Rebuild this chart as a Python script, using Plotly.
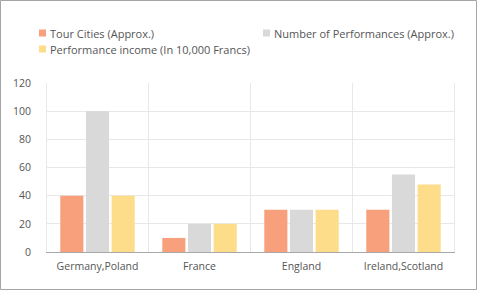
import plotly.graph_objects as go

categories = ["Germany,Poland", "France", "England", "Ireland,Scotland"]
tour_cities = [40, 10, 30, 30]
performances = [100, 20, 30, 55]
income = [40, 20, 30, 48]
series_names = ["Tour Cities (Approx.)", "Number of Performances (Approx.)", "Performance income (In 10,000 Francs)"]
colors = ["#F8A07B", "#D9D9D9", "#FDDC8A"]
y_ticks = [0, 20, 40, 60, 80, 100, 120]

W, H = 477, 290
L, R, T, B = 46, 22, 83, 38
pw, ph = W - L - R, H - T - B

def px_x(x):
    return (x - L) / pw

def px_y(y):
    return (H - B - y) / ph

fig = go.Figure()
for name, vals, c in zip(series_names, [tour_cities, performances, income], colors):
    fig.add_trace(go.Bar(x=categories, y=vals, name=name, showlegend=False,
                         marker=dict(color=c, line=dict(width=0))))

font = dict(family="Open Sans, Segoe UI, sans-serif", size=11, color="#555555")
tfont = dict(family="Open Sans, Segoe UI, sans-serif", size=10.5, color="#555555")
fig.update_layout(
    width=W, height=H,
    margin=dict(l=L, r=R, t=T, b=B, pad=0),
    paper_bgcolor="white", plot_bgcolor="white",
    barmode="group", bargap=0.245, bargroupgap=0.1,
    font=font,
    xaxis=dict(showgrid=False, showline=True, linecolor="#A8A8A8", linewidth=1, ticks="outside",
               ticklen=4, tickcolor="rgba(0,0,0,0)", tickfont=tfont, fixedrange=True),
    yaxis=dict(range=[0, 120], tickvals=y_ticks, showgrid=True, gridcolor="#E8E8E8", gridwidth=1,
               zeroline=False, showline=False, ticks="outside", ticklen=12, tickcolor="rgba(0,0,0,0)",
               tickfont=tfont),
)
# custom legend (squares + text)
legend_pos = [(39, 33), (263, 33), (39, 49)]
for name, c, (lx, ly) in zip(series_names, colors, legend_pos):
    fig.add_shape(type="rect", xref="paper", yref="paper",
                  x0=px_x(lx), x1=px_x(lx + 7), y0=px_y(ly + 3.5), y1=px_y(ly - 3.5),
                  fillcolor=c, line=dict(width=0))
    fig.add_annotation(xref="paper", yref="paper", x=px_x(lx + 9), y=px_y(ly),
                       xanchor="left", yanchor="middle", text=name, showarrow=False,
                       font=font)
# vertical category separators
for i in range(len(categories) + 1):
    fig.add_shape(type="line", xref="x", yref="paper", x0=i - 0.5, x1=i - 0.5, y0=0, y1=1,
                  line=dict(color="#E8E8E8", width=1), layer="below")
# outer border
fig.add_shape(type="rect", xref="paper", yref="paper",
              x0=(-L + 0.5) / pw, x1=1 + (R - 0.5) / pw, y0=(-B + 0.5) / ph, y1=1 + (T - 0.5) / ph,
              line=dict(color="#A5A5A5", width=1))
fig.write_html("out.html")
